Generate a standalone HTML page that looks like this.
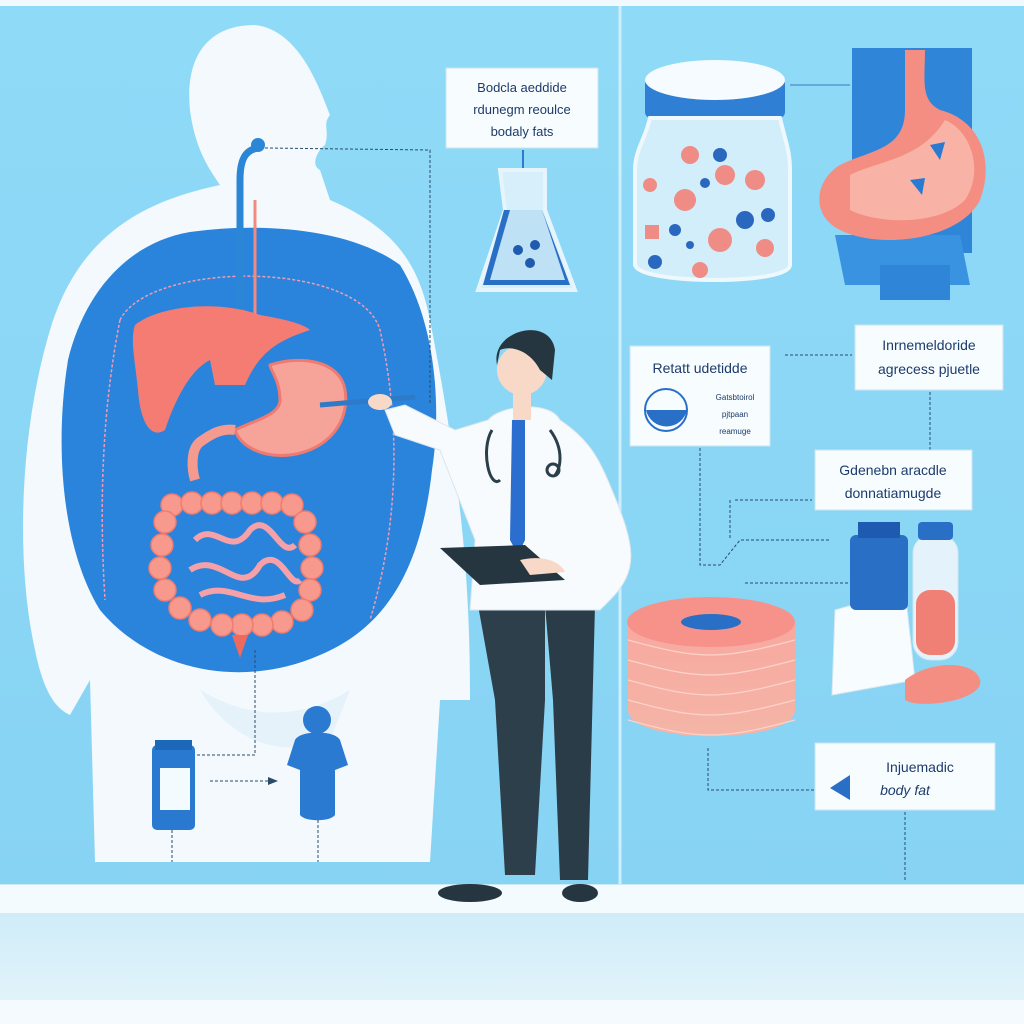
<!DOCTYPE html>
<html><head><meta charset="utf-8"><style>
html,body{margin:0;padding:0;width:1024px;height:1024px;overflow:hidden;background:#8ad8f6}
svg{display:block}
text{font-family:"Liberation Sans",sans-serif;fill:#1d3b6a}
</style></head><body>
<svg width="1024" height="1024" viewBox="0 0 1024 1024">
<defs>
<linearGradient id="bg" x1="0" y1="0" x2="0" y2="1"><stop offset="0" stop-color="#8fdaf7"/><stop offset="1" stop-color="#86d2f3"/></linearGradient>
<linearGradient id="floor" x1="0" y1="0" x2="0" y2="1"><stop offset="0" stop-color="#c9eaf8"/><stop offset="1" stop-color="#e6f5fb"/></linearGradient>
<linearGradient id="disc" x1="0" y1="0" x2="0" y2="1"><stop offset="0" stop-color="#f8a8a0"/><stop offset="1" stop-color="#f4b5a6"/></linearGradient>
</defs>
<rect width="1024" height="1024" fill="url(#bg)"/>
<rect x="0" y="0" width="1024" height="6" fill="#f0f9fd"/>
<line x1="620" y1="6" x2="620" y2="885" stroke="#cdeefb" stroke-width="3"/>
<rect x="0" y="884" width="1024" height="140" fill="url(#floor)"/>
<rect x="0" y="885" width="1024" height="28" fill="#f3fbfe"/>
<rect x="0" y="1000" width="1024" height="24" fill="#f4fafd"/>
<path d="M255 25 C205 25 185 60 190 110 C195 150 210 170 220 185 C150 200 80 230 50 330 C20 430 15 560 35 650 C45 700 60 710 70 715 L90 680 L95 862 L430 862 L440 700 L470 700 C470 600 465 500 430 320 C420 270 400 230 330 200 L320 170 C310 165 318 150 325 145 C330 130 322 125 330 115 C320 90 300 30 255 25 Z" fill="#f3f9fd"/>
<path d="M190 232 C260 222 350 228 400 265 C440 330 440 420 432 470 C422 560 392 625 320 655 C240 690 150 670 100 610 C60 545 55 440 68 360 C85 290 130 242 190 232 Z" fill="#2a84dc"/>
<path d="M120 320 C150 260 360 260 380 330 C400 420 400 520 370 620" fill="none" stroke="#f49ab0" stroke-width="1.5" stroke-dasharray="3 2"/>
<path d="M120 320 C100 420 100 520 105 600" fill="none" stroke="#f49ab0" stroke-width="1.5" stroke-dasharray="3 2"/>
<path d="M200 690 C250 720 300 720 350 690 L330 740 C280 760 230 740 200 690 Z" fill="#e5f2fa"/>
<path d="M258 148 C245 150 240 160 240 180 L240 320" fill="none" stroke="#2c86d6" stroke-width="7"/>
<line x1="255" y1="200" x2="255" y2="330" stroke="#f28a80" stroke-width="3"/>
<circle cx="258" cy="145" r="7" fill="#2c86d6"/>
<path d="M265 148 L430 150 L430 405" fill="none" stroke="#2b4a6a" stroke-width="1" stroke-dasharray="3 2"/>
<path d="M135 325 C160 305 220 300 260 315 C290 320 305 325 310 330 C280 340 260 350 245 385 L215 385 L210 360 C190 370 175 400 165 430 C150 440 140 420 138 390 C135 360 130 340 135 325 Z" fill="#f47c73"/>
<path d="M270 365 C300 355 340 360 345 390 C350 420 330 450 290 455 C260 458 240 445 235 430 C255 420 280 415 280 400 C280 380 270 370 270 365 Z" fill="#f6a39a" stroke="#ef7a70" stroke-width="3"/>
<path d="M235 430 C220 428 210 435 200 442 C190 450 192 470 195 480" fill="none" stroke="#f59a8e" stroke-width="10"/>
<g fill="#f7998c" stroke="#ef7c70" stroke-width="1.5">
<circle cx="172" cy="505" r="11"/><circle cx="192" cy="503" r="11"/><circle cx="212" cy="503" r="11"/><circle cx="232" cy="503" r="11"/><circle cx="252" cy="503" r="11"/><circle cx="272" cy="503" r="11"/><circle cx="292" cy="505" r="11"/>
<circle cx="305" cy="522" r="11"/><circle cx="310" cy="545" r="11"/><circle cx="312" cy="568" r="11"/><circle cx="310" cy="590" r="11"/><circle cx="302" cy="610" r="11"/>
<circle cx="282" cy="622" r="11"/><circle cx="262" cy="625" r="11"/><circle cx="242" cy="625" r="11"/><circle cx="222" cy="625" r="11"/><circle cx="200" cy="620" r="11"/><circle cx="180" cy="608" r="11"/>
<circle cx="165" cy="590" r="11"/><circle cx="160" cy="568" r="11"/><circle cx="162" cy="545" r="11"/><circle cx="165" cy="522" r="11"/>
</g>
<path d="M195 540 C215 520 230 560 250 530 C270 510 280 560 295 545 M190 570 C220 550 240 600 260 565 C280 545 290 590 300 580 M200 595 C230 580 250 610 285 595" fill="none" stroke="#f6a0a8" stroke-width="6"/>
<path d="M232 635 L248 635 L240 658 Z" fill="#ef6a5e"/>
<line x1="320" y1="405" x2="415" y2="397" stroke="#2d7bc8" stroke-width="5"/>
<line x1="255" y1="650" x2="255" y2="755" stroke="#2b4a6a" stroke-dasharray="3 2"/>
<line x1="255" y1="755" x2="190" y2="755" stroke="#2b4a6a" stroke-dasharray="3 2"/>
<rect x="152" y="745" width="43" height="85" rx="5" fill="#2a79d0"/>
<rect x="155" y="740" width="37" height="10" fill="#1d67b8"/>
<rect x="160" y="768" width="30" height="42" fill="#f4fbff"/>
<line x1="210" y1="781" x2="270" y2="781" stroke="#2b4a6a" stroke-dasharray="3 2"/>
<path d="M268 777 L278 781 L268 785 Z" fill="#2b4a6a"/>
<circle cx="317" cy="720" r="14" fill="#2a7ad2"/>
<path d="M295 740 C300 730 335 730 340 740 L348 765 L335 770 L335 815 C330 822 305 822 300 815 L300 770 L287 765 Z" fill="#2a7ad2"/>
<line x1="172" y1="830" x2="172" y2="862" stroke="#2b4a6a" stroke-dasharray="3 2"/>
<line x1="318" y1="820" x2="318" y2="862" stroke="#2b4a6a" stroke-dasharray="3 2"/>
<rect x="446" y="68" width="152" height="80" fill="#f7fcff" stroke="#cbe5f2"/>
<text x="522" y="92" font-size="13" text-anchor="middle">Bodcla aeddide</text>
<text x="522" y="114" font-size="13" text-anchor="middle">rdunegm reoulce</text>
<text x="522" y="136" font-size="13" text-anchor="middle">bodaly fats</text>
<line x1="523" y1="150" x2="523" y2="175" stroke="#2a7ad2" stroke-width="2"/>
<path d="M500 170 L545 170 L545 210 L575 290 L478 290 L505 210 Z" fill="#d7effb" stroke="#e6f4fb" stroke-width="4"/>
<path d="M504 210 L542 210 L570 285 L483 285 Z" fill="#2a6fc6"/>
<path d="M510 210 L542 210 L565 280 L490 280 Z" fill="#bfe1f5"/>
<circle cx="518" cy="250" r="5" fill="#1e5ab0"/><circle cx="535" cy="245" r="5" fill="#1e5ab0"/><circle cx="530" cy="263" r="5" fill="#1e5ab0"/>
<g>
<path d="M478 605 L545 605 L545 700 L535 875 L505 875 L495 700 Z" fill="#2d3f4a"/>
<path d="M545 605 L595 605 L588 880 L560 880 L553 700 Z" fill="#2a3c47"/>
<ellipse cx="470" cy="893" rx="32" ry="9" fill="#263640"/>
<ellipse cx="580" cy="893" rx="18" ry="9" fill="#263640"/>
<path d="M488 420 C500 405 550 400 560 420 C590 440 600 460 612 490 C635 545 640 570 610 600 L600 610 L470 610 L475 540 L440 450 L395 435 L385 410 L405 405 L455 430 Z" fill="#f8fbfd" stroke="#d8e6ee"/>
<path d="M512 420 L525 420 L525 540 L518 555 L510 540 Z" fill="#2a6fd0"/>
<circle cx="522" cy="370" r="25" fill="#f8d9c8"/>
<path d="M497 365 C490 330 550 315 555 350 L552 380 L540 370 C530 350 510 345 500 350 Z" fill="#253640"/>
<rect x="513" y="390" width="18" height="30" fill="#f8d9c8"/>
<path d="M492 430 C480 450 490 490 500 480 M550 430 C565 450 560 470 555 475" fill="none" stroke="#2b3f4a" stroke-width="3"/>
<circle cx="553" cy="470" r="6" fill="none" stroke="#2b3f4a" stroke-width="3"/>
<path d="M440 548 L525 545 L565 580 L480 585 Z" fill="#263640"/>
<path d="M520 560 C540 555 560 560 565 572 L530 575 Z" fill="#f8d9c8"/>
<ellipse cx="380" cy="402" rx="12" ry="8" fill="#f8d9c8"/>
</g>
<rect x="645" y="78" width="140" height="40" rx="6" fill="#2f7fd4"/>
<ellipse cx="715" cy="80" rx="70" ry="20" fill="#f5fbff"/>
<path d="M650 118 L780 118 C785 140 790 150 790 170 L790 265 C790 285 640 285 635 265 L635 170 C635 150 645 140 650 118 Z" fill="#d3eefb" stroke="#eef8fd" stroke-width="4"/>
<g fill="#f08c86"><circle cx="690" cy="155" r="9"/><circle cx="725" cy="175" r="10"/><circle cx="685" cy="200" r="11"/><circle cx="720" cy="240" r="12"/><circle cx="765" cy="248" r="9"/><circle cx="650" cy="185" r="7"/><circle cx="755" cy="180" r="10"/><circle cx="700" cy="270" r="8"/><rect x="645" y="225" width="14" height="14"/></g>
<g fill="#2a68c0"><circle cx="720" cy="155" r="7"/><circle cx="705" cy="183" r="5"/><circle cx="745" cy="220" r="9"/><circle cx="768" cy="215" r="7"/><circle cx="675" cy="230" r="6"/><circle cx="655" cy="262" r="7"/><circle cx="690" cy="245" r="4"/></g>
<line x1="790" y1="85" x2="850" y2="85" stroke="#3a79bf"/>
<rect x="852" y="48" width="120" height="205" fill="#2f86d9"/>
<path d="M835 235 L960 235 L970 285 L845 285 Z" fill="#3a93e0"/>
<rect x="880" y="265" width="70" height="35" fill="#2f86d9"/>
<path d="M905 50 L925 50 C925 80 920 100 940 110 C980 120 995 160 980 200 C960 240 880 250 840 230 C810 215 815 180 840 165 C870 150 905 150 905 110 Z" fill="#f48e82"/>
<path d="M850 175 C880 160 920 160 945 120 C970 130 985 170 965 200 C940 225 880 225 850 210 Z" fill="#f9b2a6"/>
<path d="M930 145 L945 142 L940 160 Z M910 180 L925 178 L922 195 Z" fill="#2a7ad2"/>
<rect x="630" y="346" width="140" height="100" fill="#f7fcff" stroke="#cbe5f2"/>
<text x="700" y="373" font-size="14" text-anchor="middle">Retatt udetidde</text>
<circle cx="666" cy="410" r="21" fill="#f7fcff" stroke="#2a6fc6" stroke-width="2"/>
<path d="M646 410 A21 21 0 0 0 687 410 Z" fill="#2a6fc6"/>
<text x="735" y="400" font-size="8" text-anchor="middle">Gatsbtoirol</text>
<text x="735" y="417" font-size="8" text-anchor="middle">pjtpaan</text>
<text x="735" y="434" font-size="8" text-anchor="middle">reamuge</text>
<rect x="855" y="325" width="148" height="65" fill="#f7fcff" stroke="#cbe5f2"/>
<text x="929" y="350" font-size="14" text-anchor="middle">Inrnemeldoride</text>
<text x="929" y="374" font-size="14" text-anchor="middle">agrecess pjuetle</text>
<line x1="785" y1="355" x2="852" y2="355" stroke="#2b4a6a" stroke-dasharray="3 2"/>
<line x1="930" y1="392" x2="930" y2="450" stroke="#2b4a6a" stroke-dasharray="3 2"/>
<rect x="815" y="450" width="157" height="60" fill="#f7fcff" stroke="#cbe5f2"/>
<text x="893" y="475" font-size="14" text-anchor="middle">Gdenebn aracdle</text>
<text x="893" y="498" font-size="14" text-anchor="middle">donnatiamugde</text>
<path d="M700 448 L700 565 L720 565 L740 540 L830 540" fill="none" stroke="#2b4a6a" stroke-dasharray="3 2"/>
<path d="M735 500 L812 500 M730 500 L730 540" fill="none" stroke="#2b4a6a" stroke-dasharray="3 2"/>
<path d="M745 583 L855 583" fill="none" stroke="#2b4a6a" stroke-dasharray="3 2"/>
<path d="M628 622 L795 622 L795 710 C795 745 628 745 628 710 Z" fill="url(#disc)"/>
<g stroke="#fcd3ca" stroke-width="1.2" fill="none"><path d="M628 640 C700 660 720 660 795 640"/><path d="M628 660 C700 680 720 680 795 660"/><path d="M628 680 C700 700 720 700 795 680"/><path d="M628 700 C700 720 720 720 795 700"/><path d="M628 720 C700 740 720 740 795 720"/></g>
<ellipse cx="711" cy="622" rx="84" ry="25" fill="#f7928b"/>
<ellipse cx="711" cy="622" rx="30" ry="8" fill="#2a6fc6"/>
<path d="M708 748 L708 790 L815 790" fill="none" stroke="#2b4a6a" stroke-dasharray="3 2"/>
<path d="M835 610 L905 590 L915 680 L832 695 Z" fill="#f7fcff" stroke="#d8e8f0"/>
<rect x="850" y="535" width="58" height="75" rx="6" fill="#2a6fc6"/>
<rect x="858" y="522" width="42" height="16" fill="#1e5ab0"/>
<rect x="913" y="535" width="45" height="125" rx="18" fill="#e4f3fb" stroke="#cfe6f1"/>
<rect x="916" y="590" width="39" height="65" rx="14" fill="#f07f76"/>
<rect x="918" y="522" width="35" height="18" rx="4" fill="#2a6fc6"/>
<path d="M905 680 C930 660 975 660 980 680 C985 700 920 710 905 700 Z" fill="#f48e82"/>
<rect x="815" y="743" width="180" height="67" fill="#f7fcff" stroke="#cbe5f2"/>
<path d="M850 775 L850 800 L830 788 Z" fill="#2a6fc6"/>
<text x="920" y="772" font-size="14" text-anchor="middle">Injuemadic</text>
<text x="905" y="795" font-size="14" text-anchor="middle" font-style="italic">body fat</text>
<line x1="905" y1="812" x2="905" y2="880" stroke="#2b4a6a" stroke-dasharray="3 2"/>
</svg>
</body></html>
